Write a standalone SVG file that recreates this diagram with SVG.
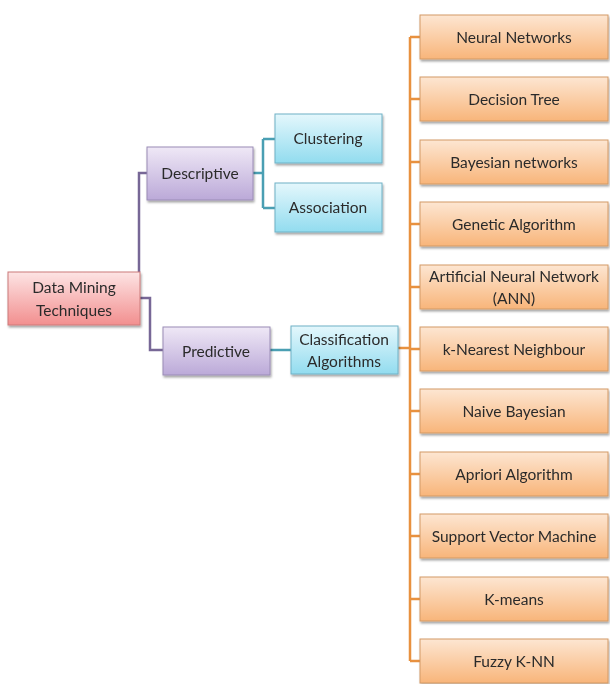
<svg xmlns="http://www.w3.org/2000/svg" width="610" height="684" viewBox="0 0 610 684">
<defs>
<linearGradient id="gO" x1="0" y1="0" x2="0" y2="1"><stop offset="0" stop-color="#fde6d2"/><stop offset="1" stop-color="#f8b57a"/></linearGradient>
<linearGradient id="gT" x1="0" y1="0" x2="0" y2="1"><stop offset="0" stop-color="#e4f7fc"/><stop offset="1" stop-color="#92dcef"/></linearGradient>
<linearGradient id="gP" x1="0" y1="0" x2="0" y2="1"><stop offset="0" stop-color="#efe8f6"/><stop offset="1" stop-color="#bba9d8"/></linearGradient>
<linearGradient id="gR" x1="0" y1="0" x2="0" y2="1"><stop offset="0" stop-color="#fde4e4"/><stop offset="1" stop-color="#f28f8f"/></linearGradient>
<filter id="sh" x="-10%" y="-10%" width="125%" height="140%"><feDropShadow dx="1" dy="2" stdDeviation="1.2" flood-color="#000" flood-opacity="0.35"/></filter>
</defs>
<style>
text{font-family:Lato,"Open Sans","Liberation Sans",sans-serif;font-size:15.5px;fill:#2b2b2b;text-anchor:middle;dominant-baseline:central}
.o{fill:url(#gO);stroke:#d39a66;stroke-width:1}
.t{fill:url(#gT);stroke:#6fb2c6;stroke-width:1}
.p{fill:url(#gP);stroke:#9a8cb6;stroke-width:1}
.r{fill:url(#gR);stroke:#cc7a7a;stroke-width:1}
.box{filter:url(#sh)}
.lo{stroke:#e8913f;stroke-width:2.5;fill:none}
.lp{stroke:#776796;stroke-width:2.5;fill:none}
.lt{stroke:#4a9fb3;stroke-width:2.5;fill:none}
</style>
<rect width="610" height="684" fill="#fff"/>
<g id="connectors">
<path class="lp" d="M139 272 V173 H147"/>
<path class="lp" d="M140 298 H150 V350 H163"/>
<path class="lt" d="M253 173 H263 M263 139 V208 M263 139 H275 M263 208 H275"/>
<path class="lt" d="M270 350 H291"/>
<path class="lo" d="M398 348 H410 M410 37 V661"/>
<path class="lo" d="M410 37 H420 M410 99 H420 M410 162 H420 M410 224 H420 M410 287 H420 M410 349 H420 M410 411 H420 M410 474 H420 M410 536 H420 M410 599 H420 M410 661 H420"/>
</g>
<g id="n-dmt" class="box"><rect class="r" x="8" y="272" width="132" height="53"/><text x="74" y="287">Data Mining</text><text x="74" y="310">Techniques</text></g>
<g id="n-descriptive" class="box"><rect class="p" x="147" y="147" width="106" height="53"/><text x="200" y="173">Descriptive</text></g>
<g id="n-predictive" class="box"><rect class="p" x="163" y="327" width="107" height="48"/><text x="216" y="351">Predictive</text></g>
<g id="n-clustering" class="box"><rect class="t" x="275" y="114" width="107" height="49"/><text x="328" y="138">Clustering</text></g>
<g id="n-association" class="box"><rect class="t" x="275" y="183" width="107" height="49"/><text x="328" y="207">Association</text></g>
<g id="n-classification" class="box"><rect class="t" x="291" y="326" width="107" height="48"/><text x="344" y="339">Classification</text><text x="344" y="361">Algorithms</text></g>
<g id="n-nn" class="box"><rect class="o" x="420" y="15" width="188" height="44"/><text x="514" y="37">Neural Networks</text></g>
<g id="n-dt" class="box"><rect class="o" x="420" y="77" width="188" height="44"/><text x="514" y="99">Decision Tree</text></g>
<g id="n-bn" class="box"><rect class="o" x="420" y="140" width="188" height="44"/><text x="514" y="162">Bayesian networks</text></g>
<g id="n-ga" class="box"><rect class="o" x="420" y="202" width="188" height="44"/><text x="514" y="224">Genetic Algorithm</text></g>
<g id="n-ann" class="box"><rect class="o" x="420" y="265" width="188" height="44"/><text x="514" y="276">Artificial Neural Network</text><text x="514" y="298">(ANN)</text></g>
<g id="n-knn" class="box"><rect class="o" x="420" y="327" width="188" height="44"/><text x="514" y="349">k-Nearest Neighbour</text></g>
<g id="n-nb" class="box"><rect class="o" x="420" y="389" width="188" height="44"/><text x="514" y="411">Naive Bayesian</text></g>
<g id="n-apriori" class="box"><rect class="o" x="420" y="452" width="188" height="44"/><text x="514" y="474">Apriori Algorithm</text></g>
<g id="n-svm" class="box"><rect class="o" x="420" y="514" width="188" height="44"/><text x="514" y="536">Support Vector Machine</text></g>
<g id="n-kmeans" class="box"><rect class="o" x="420" y="577" width="188" height="44"/><text x="514" y="599">K-means</text></g>
<g id="n-fuzzy" class="box"><rect class="o" x="420" y="639" width="188" height="44"/><text x="514" y="661">Fuzzy K-NN</text></g>
</svg>
